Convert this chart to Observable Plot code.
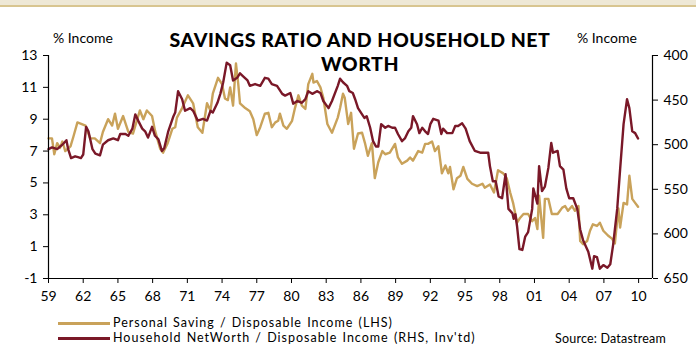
<!DOCTYPE html>
<html><head><meta charset="utf-8">
<script src="https://cdn.jsdelivr.net/npm/d3@7"></script>
<script src="https://cdn.jsdelivr.net/npm/@observablehq/plot@0.6"></script>
<style>
body{margin:0;background:#fff;font-family:"Lato",sans-serif;}
#wrap{position:relative;width:696px;height:347px;overflow:hidden;background:#fff}
#chart{position:absolute;left:0;top:0}
.topband{position:absolute;left:0;top:0;width:696px;height:5px;background:#EEE8D6;border-bottom:2px solid #D8C590}
.t{position:absolute;color:#000;white-space:nowrap}
.title{left:140px;width:440px;top:28px;text-align:center;font-weight:900;font-size:19.5px;line-height:24px;letter-spacing:0.55px}
.unit{font-size:14px;top:29px}
.leg{font-size:12.5px;left:113px;line-height:15px;letter-spacing:1px;word-spacing:1px}
.legline{position:absolute;left:58px;width:52px;height:2.5px}
</style></head><body>
<div id="wrap">
<div class="topband"></div>
<div id="chart"></div>
<div class="t title">SAVINGS RATIO AND HOUSEHOLD NET<br>WORTH</div>
<div class="t unit" style="left:53px">% Income</div>
<div class="t unit" style="left:577px">% Income</div>
<div class="legline" style="top:322px;background:#C9A25A"></div>
<div class="legline" style="top:337px;background:#7A1828"></div>
<div class="t leg" style="top:315px">Personal Saving / Disposable Income (LHS)</div>
<div class="t leg" style="top:330px">Household NetWorth / Disposable Income (RHS, Inv'td)</div>
<div class="t" style="left:555px;top:331px;font-size:12.5px;line-height:15px;letter-spacing:0.2px">Source: Datastream</div>
</div>
<script>
const savingYears = [1959.0,1959.3,1959.5,1959.75,1960.0,1960.2,1960.45,1960.9,1961.15,1961.5,1962.2,1962.6,1963.0,1963.45,1963.7,1964.15,1964.5,1964.75,1965.0,1965.45,1965.9,1966.3,1966.9,1967.2,1967.5,1967.95,1968.2,1968.65,1968.9,1969.3,1969.7,1969.95,1970.1,1970.55,1971.05,1971.5,1971.9,1972.3,1972.7,1973.0,1973.2,1973.65,1974.0,1974.25,1974.5,1974.7,1974.95,1975.2,1975.4,1975.55,1976.0,1976.4,1976.7,1977.0,1977.3,1977.7,1978.0,1978.3,1978.6,1978.85,1979.0,1979.3,1979.6,1980.05,1980.3,1980.6,1980.9,1981.2,1981.45,1981.8,1981.9,1982.2,1982.5,1982.75,1983.1,1983.5,1984.0,1984.2,1984.45,1984.6,1984.9,1985.15,1985.4,1985.75,1986.1,1986.35,1986.6,1986.95,1987.2,1987.5,1987.85,1988.1,1988.5,1988.95,1989.2,1989.55,1990.0,1990.25,1990.5,1990.95,1991.3,1991.55,1991.8,1992.15,1992.4,1992.7,1993.0,1993.3,1993.55,1993.7,1994.0,1994.3,1994.6,1994.85,1995.2,1995.6,1996.05,1996.5,1996.7,1997.15,1997.5,1997.85,1998.3,1998.6,1998.9,1999.15,1999.5,1999.75,2000.05,2000.45,2000.8,2001.05,2001.25,2001.4,2001.75,2001.9,2002.2,2002.5,2003.0,2003.4,2003.65,2003.9,2004.25,2004.5,2004.8,2004.95,2005.2,2005.55,2005.8,2006.05,2006.4,2006.65,2006.95,2007.35,2007.7,2007.95,2008.25,2008.4,2008.7,2009.0,2009.2,2009.45,2009.7,2009.95];
const savingValues = [7.8,7.8,6.8,7.5,7.2,7.6,7.0,7.3,7.9,8.8,8.6,7.8,7.8,7.5,8.2,9.0,8.6,9.35,8.4,9.2,8.2,8.1,9.55,9.0,9.55,9.2,8.3,7.15,6.9,7.5,8.4,8.5,9.1,9.7,10.5,10.0,8.5,8.15,10.0,9.55,10.6,11.6,11.2,10.3,10.2,11.0,9.85,12.5,11.2,10.0,9.7,9.5,9.0,8.0,8.5,9.35,9.4,8.5,8.8,8.9,9.35,8.6,8.4,8.9,9.7,10.5,9.85,9.65,11.2,11.85,11.3,11.4,11.0,10.35,8.7,8.15,9.1,9.7,10.6,10.35,8.7,9.4,7.15,8.1,8.15,7.5,6.7,7.5,5.3,6.3,7.0,6.8,6.9,7.45,6.6,6.2,6.4,6.6,6.4,7.0,6.9,7.45,7.45,7.6,7.0,7.3,5.6,6.1,5.6,6.0,4.6,5.3,5.45,6.0,5.25,4.95,4.8,4.95,4.7,4.9,4.4,5.8,5.6,5.3,4.4,3.75,2.5,2.8,3.05,3.05,2.6,2.8,2.1,4.2,1.55,4.0,4.0,3.05,3.05,3.45,3.55,3.25,3.55,3.25,3.55,1.35,1.15,1.35,2.0,2.4,2.3,2.5,2.0,1.7,1.5,1.2,3.4,2.2,3.75,3.65,5.45,4.0,3.75,3.5];

const netWorthYears = [1959.0,1959.3,1959.75,1960.2,1960.55,1960.7,1960.95,1961.3,1961.55,1961.8,1962.0,1962.25,1962.45,1962.8,1963.05,1963.45,1963.7,1964.15,1964.6,1965.0,1965.2,1965.65,1965.9,1966.25,1966.5,1966.75,1967.1,1967.35,1967.6,1967.95,1968.2,1968.5,1968.8,1969.0,1969.35,1969.8,1969.95,1970.2,1970.55,1970.8,1971.25,1971.5,1971.9,1972.35,1972.7,1973.0,1973.2,1973.6,1973.85,1974.1,1974.4,1974.7,1974.95,1975.3,1975.55,1975.8,1976.2,1976.4,1976.85,1977.3,1977.7,1978.0,1978.3,1978.75,1979.2,1979.45,1979.9,1980.15,1980.5,1980.9,1981.2,1981.45,1981.8,1982.2,1982.5,1982.75,1983.2,1983.5,1984.0,1984.2,1984.45,1984.8,1985.0,1985.3,1985.5,1985.75,1986.1,1986.3,1986.5,1986.8,1987.05,1987.3,1987.5,1987.75,1988.1,1988.35,1988.7,1988.95,1989.2,1989.55,1989.8,1990.1,1990.35,1990.5,1990.85,1991.05,1991.3,1991.55,1991.8,1992.0,1992.25,1992.7,1992.95,1993.1,1993.45,1993.9,1994.15,1994.4,1994.75,1995.05,1995.4,1995.85,1996.3,1996.7,1997.0,1997.15,1997.4,1997.65,1997.9,1998.2,1998.5,1998.75,1999.1,1999.2,1999.35,1999.5,1999.7,1999.95,2000.2,2000.45,2000.8,2000.9,2001.25,2001.4,2001.65,2001.9,2002.2,2002.45,2002.6,2003.0,2003.2,2003.5,2003.75,2004.0,2004.35,2004.7,2004.95,2005.2,2005.65,2006.0,2006.15,2006.4,2006.65,2006.95,2007.3,2007.55,2007.8,2008.15,2008.4,2008.7,2009.0,2009.2,2009.45,2009.7,2009.95];
const netWorthValues = [505,503,505,500,495,505,515,513,514,515,511,480,485,505,510,512,500,495,493,495,488,488,490,482,466,473,482,485,492,480,490,494,507,504,485,468,464,440,449,462,459,462,473,471,473,462,464,453,443,430,408,411,428,425,420,423,428,434,432,434,425,426,432,434,443,445,442,454,451,453,449,440,443,440,442,451,459,451,434,426,430,434,440,442,449,459,466,470,468,481,496,502,502,477,481,479,481,481,488,496,493,485,481,468,477,487,481,485,488,477,471,473,488,482,487,487,479,479,476,482,496,507,509,509,509,524,541,541,558,560,533,572,577,583,578,592,617,618,603,598,572,549,566,524,552,547,526,498,509,507,524,528,549,560,560,572,595,607,620,639,625,626,639,635,638,634,612,572,528,477,449,459,485,487,493];

const xTicks = [1959,1962,1965,1968,1971,1974,1977,1980,1983,1986,1989,1992,1995,1998,2001,2004,2007,2010];
const leftTicks = [-1,1,3,5,7,9,11,13];
const rightTicks = [400,450,500,550,600,650];

// map the inverted right-hand scale (400..650) onto the left scale (13..-1)
const leftDomain = [-1, 13], rightDomain = [400, 650];
const toLeft = w => leftDomain[1] - (w - rightDomain[0]) * (leftDomain[1] - leftDomain[0]) / (rightDomain[1] - rightDomain[0]);
const fromLeft = v => rightDomain[0] + (leftDomain[1] - v) * (rightDomain[1] - rightDomain[0]) / (leftDomain[1] - leftDomain[0]);

const saving = savingYears.map((y, i) => ({year: y, value: savingValues[i]}));
const netWorth = netWorthYears.map((y, i) => ({year: y, value: toLeft(netWorthValues[i])}));

const tan = "#C9A25A", maroon = "#7A1828";

const chart = Plot.plot({
  width: 696, height: 347,
  marginLeft: 48, marginRight: 44, marginTop: 55, marginBottom: 69,
  style: {fontFamily: "Lato, sans-serif", fontSize: "14px", color: "#000", background: "transparent"},
  x: {domain: [1959, 2011.2]},
  y: {domain: leftDomain},
  marks: [
    Plot.line(saving, {x: "year", y: "value", stroke: tan, strokeWidth: 2.4}),
    Plot.line(netWorth, {x: "year", y: "value", stroke: maroon, strokeWidth: 2.4}),
    Plot.axisX({ticks: xTicks, tickFormat: d => String(d % 100).padStart(2, "0"), tickSize: 5, tickPadding: 8, label: null, stroke: "#000", fontSize: 14}),
    Plot.axisY({ticks: leftTicks, tickFormat: d => String(d), tickSize: 5, tickPadding: 6, label: null, fontSize: 14}),
    Plot.axisY({anchor: "right", ticks: rightTicks.map(toLeft), tickFormat: d => String(Math.round(fromLeft(d))), tickSize: 5, tickPadding: 6, label: null, fontSize: 14}),
    Plot.ruleY([leftDomain[0]], {stroke: "#000", strokeWidth: 1.2}),
    Plot.ruleX([1959], {stroke: "#000", strokeWidth: 1.2}),
    Plot.ruleX([2011.2], {stroke: "#000", strokeWidth: 1.2})
  ]
});
document.getElementById("chart").appendChild(chart);
</script>
</body></html>
